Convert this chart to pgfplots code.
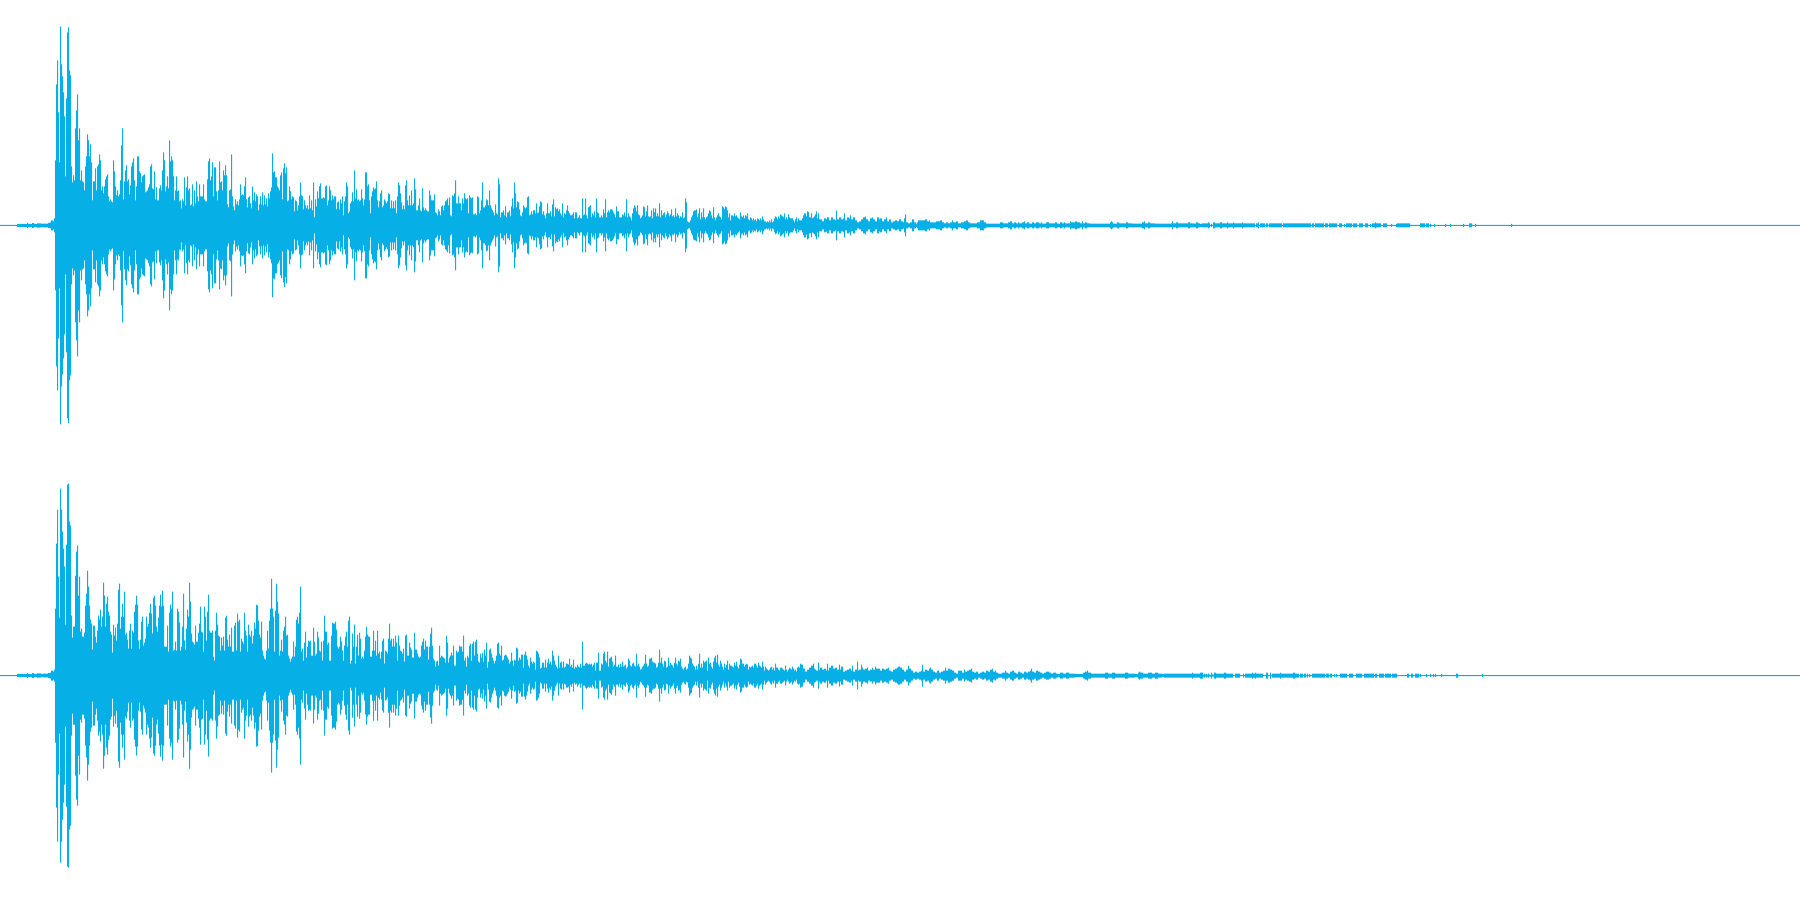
\documentclass[border=0pt]{standalone}
\usepackage{pgfplots}
\usepackage{pgfplotstable}
\pgfplotsset{compat=1.18}
\definecolor{wave}{RGB}{6,175,230}
\pgfplotstableread[row sep=\\]{x a\\
0 .5\\ 17 1.6\\ 27 2.4\\ 28 1.5\\ 32 2.4\\ 34 1.5\\ 37 2.2\\ 41 1.5\\ 42 1.8\\ 48 2.6\\ 50 3\\ 51 5\\ 53 4\\ 54 7\\
55 65\\ 56 141\\ 57 165\\ 58 113\\ 59 63\\ 60 199\\ 61 161\\ 62 149\\ 63 133\\ 64 109\\ 65 49\\ 66 127\\ 67 193\\ 68 198\\ 69 155\\ 70 150\\ 71 59\\ 72 43\\ 73 50\\ 74 45\\ 75 97\\ 76 115\\ 77 131\\ 78 85\\ 79 97\\ 80 45\\ 81 55\\ 82 44\\ 83 43\\ 84 35\\ 85 59\\ 86 69\\ 87 91\\ 88 85\\ 89 69\\ 90 81\\ 91 63\\ 92 25\\ 93 44\\ 94 44\\ 95 57\\ 96 35\\ 97 59\\ 98 61\\ 99 71\\ 100 65\\ 101 35\\ 102 39\\ 103 32\\ 104 39\\ 105 46\\ 106 49\\ 107 51\\ 108 29\\ 109 24\\ 110 26\\ 111 24\\ 112 23\\ 113 65\\ 114 54\\ 115 39\\ 116 30\\ 117 35\\ 118 29\\ 119 31\\ 120 45\\ 121 80\\ 122 97\\ 123 26\\ 124 44\\ 125 55\\ 126 60\\ 127 44\\ 128 46\\ 129 31\\ 130 40\\ 131 59\\ 132 63\\ 133 67\\ 134 45\\ 135 25\\ 136 39\\ 137 69\\ 138 69\\ 139 54\\ 140 52\\ 141 43\\ 142 49\\ 143 50\\ 144 51\\ 145 33\\ 146 34\\ 147 35\\ 148 38\\ 149 41\\ 150 59\\ 151 61\\ 152 37\\ 153 36\\ 154 54\\ 155 26\\ 156 38\\ 157 25\\ 158 25\\ 159 37\\ 160 40\\ 161 35\\ 162 55\\ 163 73\\ 164 65\\ 165 34\\ 166 39\\ 167 49\\ 168 37\\ 169 85\\ 170 64\\ 171 69\\ 172 65\\ 173 49\\ 174 25\\ 175 35\\ 176 49\\ 177 34\\ 178 35\\ 179 24\\ 180 25\\ 181 17\\ 182 26\\ 183 24\\ 184 48\\ 185 20\\ 186 38\\ 187 49\\ 188 35\\ 189 37\\ 190 20\\ 191 21\\ 192 41\\ 193 19\\ 194 35\\ 195 22\\ 196 44\\ 197 29\\ 198 24\\ 199 41\\ 200 29\\ 201 29\\ 202 29\\ 203 41\\ 204 26\\ 205 24\\ 206 24\\ 207 46\\ 208 64\\ 209 67\\ 210 45\\ 211 49\\ 212 63\\ 213 29\\ 214 58\\ 215 58\\ 216 34\\ 217 25\\ 218 35\\ 219 64\\ 220 43\\ 221 44\\ 222 35\\ 223 55\\ 224 50\\ 225 60\\ 226 50\\ 227 21\\ 228 18\\ 229 35\\ 230 36\\ 231 71\\ 232 29\\ 233 19\\ 234 15\\ 235 26\\ 236 21\\ 237 24\\ 238 20\\ 239 26\\ 240 41\\ 241 30\\ 242 31\\ 243 30\\ 244 39\\ 245 48\\ 246 26\\ 247 18\\ 248 28\\ 249 29\\ 250 22\\ 251 17\\ 252 39\\ 253 25\\ 254 33\\ 255 24\\ 256 31\\ 257 29\\ 258 15\\ 259 21\\ 260 29\\ 261 21\\ 262 33\\ 263 20\\ 264 30\\ 265 21\\ 266 27\\ 267 19\\ 268 32\\ 269 27\\ 270 34\\ 271 38\\ 272 72\\ 273 53\\ 274 54\\ 275 48\\ 276 48\\ 277 39\\ 278 37\\ 279 35\\ 280 50\\ 281 53\\ 282 26\\ 283 57\\ 284 62\\ 285 52\\ 286 58\\ 287 24\\ 288 25\\ 289 39\\ 290 34\\ 291 26\\ 292 29\\ 293 28\\ 294 14\\ 295 25\\ 296 24\\ 297 15\\ 298 20\\ 299 29\\ 300 43\\ 301 30\\ 302 29\\ 303 16\\ 304 25\\ 305 20\\ 306 17\\ 307 20\\ 308 16\\ 309 30\\ 310 17\\ 311 25\\ 312 15\\ 313 43\\ 314 8\\ 315 26\\ 316 19\\ 317 34\\ 318 27\\ 319 39\\ 320 42\\ 321 27\\ 322 27\\ 323 28\\ 324 27\\ 325 39\\ 326 40\\ 327 20\\ 328 25\\ 329 39\\ 330 35\\ 331 25\\ 332 30\\ 333 26\\ 334 29\\ 335 29\\ 336 16\\ 337 23\\ 338 24\\ 339 16\\ 340 26\\ 341 22\\ 342 29\\ 343 10\\ 344 24\\ 345 29\\ 346 43\\ 347 39\\ 348 12\\ 349 14\\ 350 22\\ 351 24\\ 352 33\\ 353 24\\ 354 55\\ 355 27\\ 356 36\\ 357 25\\ 358 26\\ 359 24\\ 360 25\\ 361 36\\ 362 27\\ 363 20\\ 364 26\\ 365 53\\ 366 53\\ 367 39\\ 368 41\\ 369 25\\ 370 12\\ 371 29\\ 372 34\\ 373 38\\ 374 36\\ 375 37\\ 376 44\\ 377 25\\ 378 18\\ 379 24\\ 380 32\\ 381 35\\ 382 18\\ 383 20\\ 384 26\\ 385 24\\ 386 22\\ 387 24\\ 388 32\\ 389 31\\ 390 17\\ 391 25\\ 392 17\\ 393 24\\ 394 17\\ 395 25\\ 396 12\\ 397 29\\ 398 43\\ 399 40\\
400 32\\ 401 23\\ 402 16\\ 403 20\\ 404 16\\ 405 40\\ 406 45\\ 407 25\\ 408 20\\ 409 30\\ 410 20\\ 411 35\\ 412 20\\ 413 22\\ 414 47\\ 415 36\\ 416 15\\ 417 15\\ 418 20\\ 419 27\\ 420 15\\ 421 14\\ 422 37\\ 423 18\\ 424 15\\ 425 17\\ 426 15\\ 427 14\\ 428 14\\ 429 35\\ 430 30\\ 431 25\\ 432 25\\ 433 25\\ 434 31\\ 435 13\\ 436 12\\ 437 10\\ 438 16\\ 439 14\\ 440 10\\ 441 19\\ 442 20\\ 443 15\\ 444 20\\ 445 24\\ 446 25\\ 447 27\\ 448 20\\ 449 28\\ 450 10\\ 451 9\\ 452 30\\ 453 29\\ 454 32\\ 455 45\\ 456 22\\ 457 22\\ 458 29\\ 459 22\\ 460 22\\ 461 15\\ 462 27\\ 463 22\\ 464 32\\ 465 27\\ 466 26\\ 467 27\\ 468 12\\ 469 30\\ 470 28\\ 471 27\\ 472 28\\ 473 11\\ 474 11\\ 475 12\\ 476 10\\ 477 29\\ 478 28\\ 479 12\\ 480 15\\ 481 25\\ 482 43\\ 483 18\\ 484 18\\ 485 20\\ 486 26\\ 487 25\\ 488 20\\ 489 35\\ 490 20\\ 491 17\\ 492 15\\ 493 13\\ 494 10\\ 495 21\\ 496 12\\ 497 11\\ 498 47\\ 499 41\\ 500 8\\ 501 13\\ 502 13\\ 503 15\\ 504 10\\ 505 19\\ 506 8\\ 507 13\\ 508 13\\ 509 15\\ 510 9\\ 511 19\\ 512 27\\ 513 17\\ 514 43\\ 515 32\\ 516 18\\ 517 24\\ 518 23\\ 519 16\\ 520 10\\ 521 9\\ 522 13\\ 523 20\\ 524 18\\ 525 17\\ 526 18\\ 527 28\\ 528 29\\ 529 10\\ 530 11\\ 531 14\\ 532 11\\ 533 15\\ 534 15\\ 535 12\\ 536 22\\ 537 12\\ 538 13\\ 539 19\\ 540 24\\ 541 23\\ 542 11\\ 543 14\\ 544 10\\ 545 7\\ 546 12\\ 547 22\\ 548 12\\ 549 12\\ 550 14\\ 551 9\\ 552 21\\ 553 26\\ 554 9\\ 555 18\\ 556 16\\ 557 17\\ 558 14\\ 559 16\\ 560 12\\ 561 10\\ 562 22\\ 563 8\\ 564 12\\ 565 11\\ 566 15\\ 567 20\\ 568 14\\ 569 12\\ 570 10\\ 571 10\\ 572 11\\ 573 13\\ 574 7\\ 575 13\\ 576 13\\ 577 7\\ 578 8\\ 579 10\\ 580 7\\ 581 7\\ 582 27\\ 583 10\\ 584 11\\ 585 27\\ 586 10\\ 587 7\\ 588 18\\ 589 19\\ 590 20\\ 591 8\\ 592 12\\ 593 10\\ 594 14\\ 595 8\\ 596 27\\ 597 13\\ 598 12\\ 599 8\\ 600 8\\ 601 10\\ 602 8\\ 603 16\\ 604 12\\ 605 26\\ 606 8\\ 607 13\\ 608 15\\ 609 13\\ 610 16\\ 611 16\\ 612 15\\ 613 13\\ 614 11\\ 615 8\\ 616 19\\ 617 14\\ 618 14\\ 619 8\\ 620 8\\ 621 8\\ 622 11\\ 623 10\\ 624 13\\ 625 9\\ 626 26\\ 627 8\\ 628 12\\ 629 9\\ 630 8\\ 631 5\\ 632 12\\ 633 17\\ 634 20\\ 635 18\\ 636 14\\ 637 20\\ 638 11\\ 639 10\\ 640 7\\ 641 8\\ 642 10\\ 643 19\\ 644 18\\ 645 9\\ 646 14\\ 647 20\\ 648 9\\ 649 8\\ 650 9\\ 651 15\\ 652 7\\ 653 17\\ 654 13\\ 655 17\\ 656 9\\ 657 12\\ 658 9\\ 659 22\\ 660 8\\ 661 15\\ 662 10\\ 663 12\\ 664 13\\ 665 8\\ 666 11\\ 667 14\\ 668 12\\ 669 9\\ 670 11\\ 671 16\\ 672 9\\ 673 10\\ 674 8\\ 675 17\\ 676 9\\ 677 12\\ 678 10\\ 679 7\\ 680 9\\ 681 8\\ 682 13\\ 683 7\\ 684 8\\ 685 27\\ 686 23\\ 687 4\\ 688 3\\ 689 3\\ 690 5\\ 691 8\\ 692 10\\ 693 14\\ 694 15\\ 695 15\\ 696 16\\ 697 8\\ 698 12\\ 699 17\\ 700 6\\ 701 13\\ 702 8\\ 703 17\\ 704 8\\ 705 6\\ 706 8\\ 707 9\\ 708 12\\ 709 15\\ 710 14\\ 711 10\\ 712 7\\ 713 18\\ 714 8\\ 715 5\\ 716 8\\ 717 10\\ 718 12\\ 719 9\\ 720 8\\ 721 6\\ 722 19\\ 723 18\\ 724 16\\ 725 19\\ 726 18\\ 727 15\\ 728 8\\ 729 12\\ 730 5\\ 731 10\\ 732 10\\ 733 9\\ 734 12\\ 735 9\\ 736 10\\ 737 8\\ 738 7\\ 739 6\\ 740 13\\ 741 9\\ 742 8\\ 743 10\\ 744 7\\ 745 10\\ 746 9\\ 747 12\\ 748 6\\ 749 5\\ 750 8\\ 751 7\\ 752 5\\ 753 7\\ 754 5\\ 755 6\\ 756 4\\ 757 7\\ 758 6\\ 759 5\\ 760 7\\ 761 5\\ 762 9\\ 763 6\\ 764 4\\ 765 4\\ 766 3\\ 767 4\\ 768 3\\ 769 5\\ 770 3\\ 771 6\\ 772 3\\ 773 4\\ 774 7\\ 775 9\\ 776 8\\ 777 6\\ 778 9\\ 779 7\\ 780 11\\ 781 10\\ 782 9\\ 783 8\\ 784 12\\ 785 6\\ 786 8\\ 787 6\\ 788 11\\ 789 8\\ 790 7\\ 791 7\\ 792 7\\ 793 5\\ 794 3\\ 795 6\\ 796 8\\ 797 4\\ 798 7\\ 799 5\\
800 5\\ 802 7\\ 803 10\\ 804 12\\ 806 9\\ 807 14\\ 808 13\\ 809 8\\ 811 12\\ 812 7\\ 813 8\\ 814 9\\ 815 11\\ 816 14\\ 817 7\\ 818 12\\ 819 6\\ 820 6\\ 822 4\\ 824 7\\ 826 6\\ 827 8\\ 829 5\\ 831 8\\ 833 6\\ 835 5\\ 836 15\\ 837 6\\ 839 8\\ 841 6\\ 843 7\\ 844 12\\ 845 5\\ 847 8\\ 849 7\\ 850 10\\ 851 6\\ 853 8\\ 855 5\\ 857 3\\ 859 4\\ 861 6\\ 863 8\\ 865 9\\ 866 6\\ 868 4\\ 870 7\\ 872 8\\ 873 6\\ 875 4\\ 877 8\\ 879 6\\ 880 7\\ 882 4\\ 884 6\\ 886 8\\ 887 4\\ 889 6\\ 891 3\\ 893 4\\ 895 5\\ 897 4\\ 899 6\\ 901 4\\ 903 3\\ 904 7\\ 905 11\\ 906 3\\ 908 2\\ 910 3\\ 912 6\\ 914 3\\ 916 1.5\\ 917 3\\ 918 5\\ 925 6\\ 927 4\\ 929 5\\ 930 3\\ 936 4\\ 940 5\\ 942 3\\ 944 2\\ 946 3\\ 948 2\\ 950 3\\ 952 5\\ 953 3\\ 956 4\\ 958 2\\ 961 3\\ 964 4\\ 966 5\\ 968 3\\ 970 2\\ 977 3\\ 980 5\\ 984 3\\ 986 1.8\\ 997 1.8\\ 1000 3\\ 1003 2\\ 1008 3\\ 1010 4\\ 1012 2\\ 1014 3\\ 1016 2\\ 1018 3\\ 1019 2\\ 1022 3\\ 1024 4\\ 1025 2\\ 1027 3\\ 1029 1.8\\ 1032 3\\ 1034 2\\ 1036 3\\ 1039 2\\ 1041 3\\ 1042 1.8\\ 1046 3\\ 1049 2\\ 1055 3\\ 1057 1.8\\ 1060 3\\ 1062 2\\ 1064 3\\ 1065 2\\ 1070 4\\ 1071 3\\ 1075 4\\ 1077 3\\ 1080 2\\ 1082 4\\ 1083 2\\ 1085 3\\ 1087 2\\ 1090 1.8\\ 1110 3\\ 1111 4\\ 1112 3\\ 1113 1.8\\ 1117 3\\ 1119 2\\ 1126 3\\ 1128 2\\ 1132 1.8\\ 1142 3\\ 1144 4\\ 1145 2\\ 1148 3\\ 1150 2\\ 1155 1.8\\ 1171 2\\ 1172 4\\ 1173 2\\ 1176 3\\ 1178 2\\ 1188 3\\ 1190 2\\ 1194 1.8\\ 1196 3\\ 1198 2\\
1200 1.5\\ 1202 2\\ 1208 3\\ 1209 2\\ 1210 .5\\ 1211 1.5\\ 1212 .5\\ 1213 3\\ 1215 2\\ 1220 3\\ 1222 2\\ 1227 3\\ 1228 2\\ 1233 3\\ 1234 2\\ 1242 3\\ 1243 2\\ 1255 .5\\ 1256 2\\ 1258 3\\ 1259 .5\\ 1260 2\\ 1265 .5\\ 1266 2\\ 1268 .5\\ 1269 2\\ 1282 .5\\ 1283 2\\ 1311 .5\\ 1312 2\\ 1314 .5\\ 1315 2\\ 1324 .5\\ 1325 2\\ 1328 .5\\ 1329 2\\ 1337 .5\\ 1339 2\\ 1342 .5\\ 1344 1.5\\ 1345 .5\\ 1346 2\\ 1352 .5\\ 1353 2\\ 1357 .5\\ 1359 2\\ 1363 .5\\ 1365 2\\ 1368 .5\\ 1370 1.5\\ 1371 .5\\ 1372 2\\ 1375 3\\ 1376 2\\ 1381 .5\\ 1383 2\\ 1387 .5\\ 1391 1.5\\ 1392 .5\\ 1396 1.5\\ 1397 2\\ 1410 .5\\ 1420 2\\ 1425 .5\\ 1426 2\\ 1429 .5\\ 1430 1.5\\ 1431 .5\\ 1434 1.5\\ 1435 .5\\ 1445 1.5\\ 1446 .5\\ 1450 1.5\\ 1451 .5\\ 1463 1.5\\ 1464 .5\\ 1469 2\\ 1472 .5\\ 1475 1.5\\ 1476 .5\\ 1511 1.5\\ 1512 .5\\ 1800 .5\\
}\chone
\pgfplotstableread[row sep=\\]{x a\\
0 .5\\ 17 1.6\\ 27 2.4\\ 28 1.5\\ 32 2.4\\ 34 1.5\\ 37 2.2\\ 41 1.5\\ 42 1.8\\ 48 2.6\\ 50 3\\ 51 5\\ 53 4\\ 54 6\\
55 67\\ 56 132\\ 57 166\\ 58 99\\ 59 58\\ 60 187\\ 61 166\\ 62 144\\ 63 127\\ 64 109\\ 65 51\\ 66 131\\ 67 191\\ 68 192\\ 69 154\\ 70 150\\ 71 60\\ 72 38\\ 73 49\\ 74 49\\ 75 100\\ 76 124\\ 77 130\\ 78 80\\ 79 99\\ 80 44\\ 81 47\\ 82 39\\ 83 39\\ 84 43\\ 85 70\\ 86 82\\ 87 105\\ 88 89\\ 89 70\\ 90 56\\ 91 52\\ 92 26\\ 93 50\\ 94 50\\ 95 39\\ 96 33\\ 97 45\\ 98 60\\ 99 56\\ 100 66\\ 101 49\\ 102 59\\ 103 93\\ 104 80\\ 105 49\\ 106 72\\ 107 79\\ 108 64\\ 109 60\\ 110 44\\ 111 41\\ 112 23\\ 113 51\\ 114 40\\ 115 48\\ 116 35\\ 117 52\\ 118 86\\ 119 92\\ 120 47\\ 121 59\\ 122 72\\ 123 59\\ 124 84\\ 125 41\\ 126 43\\ 127 36\\ 128 27\\ 129 45\\ 130 52\\ 131 27\\ 132 45\\ 133 43\\ 134 64\\ 135 71\\ 136 80\\ 137 71\\ 138 35\\ 139 27\\ 140 36\\ 141 54\\ 142 59\\ 143 30\\ 144 33\\ 145 37\\ 146 59\\ 147 49\\ 148 52\\ 149 63\\ 150 72\\ 151 62\\ 152 42\\ 153 78\\ 154 80\\ 155 70\\ 156 49\\ 157 44\\ 158 58\\ 159 70\\ 160 81\\ 161 69\\ 162 85\\ 163 70\\ 164 29\\ 165 29\\ 166 29\\ 167 50\\ 168 24\\ 169 63\\ 170 71\\ 171 67\\ 172 84\\ 173 25\\ 174 26\\ 175 34\\ 176 25\\ 177 67\\ 178 64\\ 179 53\\ 180 25\\ 181 29\\ 182 49\\ 183 82\\ 184 35\\ 185 26\\ 186 47\\ 187 66\\ 188 59\\ 189 93\\ 190 74\\ 191 42\\ 192 34\\ 193 33\\ 194 31\\ 195 50\\ 196 34\\ 197 34\\ 198 43\\ 199 52\\ 200 69\\ 201 44\\ 202 43\\ 203 24\\ 204 69\\ 205 59\\ 206 35\\ 207 64\\ 208 81\\ 209 45\\ 210 43\\ 211 43\\ 212 45\\ 213 19\\ 214 15\\ 215 45\\ 216 63\\ 217 51\\ 218 40\\ 219 39\\ 220 25\\ 221 38\\ 222 30\\ 223 39\\ 224 25\\ 225 58\\ 226 60\\ 227 36\\ 228 29\\ 229 41\\ 230 29\\ 231 48\\ 232 24\\ 233 24\\ 234 50\\ 235 53\\ 236 25\\ 237 62\\ 238 54\\ 239 56\\ 240 24\\ 241 37\\ 242 34\\ 243 32\\ 244 63\\ 245 45\\ 246 40\\ 247 24\\ 248 51\\ 249 41\\ 250 39\\ 251 45\\ 252 32\\ 253 40\\ 254 53\\ 255 47\\ 256 71\\ 257 70\\ 258 55\\ 259 41\\ 260 38\\ 261 54\\ 262 25\\ 263 20\\ 264 17\\ 265 16\\ 266 25\\ 267 45\\ 268 27\\ 269 55\\ 270 67\\ 271 97\\ 272 67\\ 273 59\\ 274 24\\ 275 65\\ 276 92\\ 277 74\\ 278 62\\ 279 20\\ 280 25\\ 281 36\\ 282 24\\ 283 45\\ 284 49\\ 285 59\\ 286 40\\ 287 41\\ 288 20\\ 289 17\\ 290 14\\ 291 17\\ 292 19\\ 293 34\\ 294 19\\ 295 29\\ 296 56\\ 297 59\\ 298 52\\ 299 63\\ 300 89\\ 301 24\\ 302 27\\ 303 15\\ 304 33\\ 305 44\\ 306 18\\ 307 29\\ 308 35\\ 309 34\\ 310 35\\ 311 20\\ 312 20\\ 313 48\\ 314 34\\ 315 20\\ 316 22\\ 317 44\\ 318 38\\ 319 25\\ 320 24\\ 321 34\\ 322 15\\ 323 35\\ 324 60\\ 325 44\\ 326 44\\ 327 31\\ 328 33\\ 329 15\\ 330 15\\ 331 40\\ 332 53\\ 333 52\\ 334 52\\ 335 54\\ 336 46\\ 337 29\\ 338 27\\ 339 29\\ 340 39\\ 341 34\\ 342 25\\ 343 15\\ 344 30\\ 345 39\\ 346 44\\ 347 29\\ 348 55\\ 349 59\\ 350 12\\ 351 15\\ 352 42\\ 353 29\\ 354 51\\ 355 12\\ 356 29\\ 357 41\\ 358 20\\ 359 43\\ 360 37\\ 361 17\\ 362 19\\ 363 17\\ 364 25\\ 365 39\\ 366 49\\ 367 41\\ 368 39\\ 369 39\\ 370 19\\ 371 19\\ 372 25\\ 373 45\\ 374 25\\ 375 35\\ 376 20\\ 377 45\\ 378 22\\ 379 24\\ 380 17\\ 381 24\\ 382 35\\ 383 37\\ 384 12\\ 385 25\\ 386 24\\ 387 22\\ 388 37\\ 389 52\\ 390 35\\ 391 37\\ 392 29\\ 393 37\\ 394 29\\ 395 40\\ 396 33\\ 397 15\\ 398 40\\ 399 30\\
400 25\\ 401 24\\ 402 22\\ 403 27\\ 404 14\\ 405 40\\ 406 41\\ 407 20\\ 408 20\\ 409 33\\ 410 28\\ 411 26\\ 412 18\\ 413 18\\ 414 43\\ 415 26\\ 416 26\\ 417 22\\ 418 19\\ 419 18\\ 420 19\\ 421 30\\ 422 34\\ 423 37\\ 424 26\\ 425 35\\ 426 29\\ 427 29\\ 428 16\\ 429 29\\ 430 42\\ 431 48\\ 432 30\\ 433 17\\ 434 15\\ 435 9\\ 436 14\\ 437 15\\ 438 10\\ 439 30\\ 440 18\\ 441 20\\ 442 19\\ 443 18\\ 444 17\\ 445 13\\ 446 40\\ 447 33\\ 448 13\\ 449 18\\ 450 20\\ 451 23\\ 452 20\\ 453 30\\ 454 10\\ 455 10\\ 456 25\\ 457 23\\ 458 24\\ 459 30\\ 460 29\\ 461 29\\ 462 24\\ 463 40\\ 464 15\\ 465 18\\ 466 9\\ 467 20\\ 468 18\\ 469 30\\ 470 32\\ 471 15\\ 472 32\\ 473 34\\ 474 20\\ 475 34\\ 476 36\\ 477 22\\ 478 14\\ 479 13\\ 480 22\\ 481 18\\ 482 23\\ 483 14\\ 484 26\\ 485 20\\ 486 33\\ 487 8\\ 488 14\\ 489 26\\ 490 27\\ 491 22\\ 492 18\\ 493 15\\ 494 12\\ 495 15\\ 496 20\\ 497 32\\ 498 33\\ 499 22\\ 500 20\\ 501 30\\ 502 15\\ 503 16\\ 504 20\\ 505 21\\ 506 20\\ 507 18\\ 508 16\\ 509 12\\ 510 14\\ 511 23\\ 512 15\\ 513 10\\ 514 16\\ 515 15\\ 516 28\\ 517 27\\ 518 15\\ 519 18\\ 520 16\\ 521 21\\ 522 21\\ 523 8\\ 524 21\\ 525 24\\ 526 20\\ 527 16\\ 528 10\\ 529 8\\ 530 18\\ 531 14\\ 532 12\\ 533 14\\ 534 13\\ 535 6\\ 536 25\\ 537 24\\ 538 22\\ 539 18\\ 540 7\\ 541 8\\ 542 13\\ 543 13\\ 544 8\\ 545 16\\ 546 8\\ 547 13\\ 548 17\\ 549 12\\ 550 14\\ 551 11\\ 552 25\\ 553 20\\ 554 15\\ 555 11\\ 556 9\\ 557 7\\ 558 20\\ 559 8\\ 560 13\\ 561 14\\ 562 8\\ 563 14\\ 564 8\\ 565 9\\ 566 12\\ 567 12\\ 568 11\\ 569 17\\ 570 9\\ 571 11\\ 572 8\\ 573 16\\ 574 7\\ 575 9\\ 576 8\\ 577 11\\ 578 9\\ 579 8\\ 580 12\\ 581 8\\ 582 34\\ 583 10\\ 584 10\\ 585 12\\ 586 13\\ 587 12\\ 588 11\\ 589 12\\ 590 11\\ 591 12\\ 592 9\\ 593 11\\ 594 13\\ 595 5\\ 596 13\\ 597 13\\ 598 23\\ 599 5\\ 600 5\\ 601 12\\ 602 11\\ 603 22\\ 604 24\\ 605 15\\ 606 13\\ 607 24\\ 608 9\\ 609 17\\ 610 18\\ 611 19\\ 612 14\\ 613 9\\ 614 11\\ 615 20\\ 616 9\\ 617 9\\ 618 11\\ 619 8\\ 620 12\\ 621 9\\ 622 14\\ 623 9\\ 624 10\\ 625 11\\ 626 7\\ 627 9\\ 628 17\\ 629 15\\ 630 10\\ 631 9\\ 632 12\\ 633 13\\ 634 10\\ 635 9\\ 636 22\\ 637 10\\ 638 12\\ 639 9\\ 640 6\\ 641 7\\ 642 9\\ 643 10\\ 644 12\\ 645 21\\ 646 12\\ 647 9\\ 648 10\\ 649 17\\ 650 17\\ 651 18\\ 652 14\\ 653 13\\ 654 13\\ 655 12\\ 656 8\\ 657 9\\ 658 13\\ 659 26\\ 660 13\\ 661 18\\ 662 12\\ 663 9\\ 664 15\\ 665 14\\ 666 8\\ 667 9\\ 668 18\\ 669 10\\ 670 13\\ 671 11\\ 672 10\\ 673 8\\ 674 13\\ 675 18\\ 676 12\\ 677 10\\ 678 15\\ 679 14\\ 680 17\\ 681 9\\ 682 7\\ 683 6\\ 684 8\\ 685 9\\ 686 6\\ 687 7\\ 688 12\\ 689 20\\ 690 18\\ 691 17\\ 692 12\\ 693 10\\ 694 9\\ 695 6\\ 696 10\\ 697 6\\ 698 12\\ 699 22\\ 700 8\\ 701 12\\ 702 8\\ 703 15\\ 704 13\\ 705 14\\ 706 15\\ 707 5\\ 708 18\\ 709 12\\ 710 13\\ 711 9\\ 712 7\\ 713 14\\ 714 18\\ 715 20\\ 716 13\\ 717 21\\ 718 11\\ 719 9\\ 720 15\\ 721 12\\ 722 9\\ 723 6\\ 724 12\\ 725 8\\ 726 11\\ 727 15\\ 728 6\\ 729 12\\ 730 10\\ 731 10\\ 732 9\\ 733 8\\ 734 13\\ 735 10\\ 736 14\\ 737 9\\ 738 7\\ 739 11\\ 740 17\\ 741 16\\ 742 12\\ 743 12\\ 744 9\\ 745 11\\ 746 12\\ 747 11\\ 748 6\\ 749 9\\ 750 8\\ 751 9\\ 752 10\\ 753 8\\ 754 12\\ 755 12\\ 756 10\\ 757 8\\ 758 13\\ 759 10\\ 760 9\\ 761 8\\ 762 14\\ 763 9\\ 764 5\\ 765 9\\ 766 7\\ 767 6\\ 768 5\\ 769 6\\ 770 8\\ 771 9\\ 772 6\\ 773 8\\ 774 5\\ 775 12\\ 776 8\\ 777 8\\ 778 6\\ 779 5\\ 780 8\\ 781 8\\ 782 7\\ 783 6\\ 784 5\\ 785 10\\ 786 6\\ 787 4\\ 788 6\\ 789 8\\ 790 7\\ 791 6\\ 792 9\\ 793 7\\ 794 5\\ 795 6\\ 796 4\\ 797 8\\ 798 9\\ 799 8\\
800 12\\ 801 11\\ 803 7\\ 805 4\\ 807 6\\ 809 8\\ 811 10\\ 813 12\\ 814 7\\ 815 6\\ 816 5\\ 818 13\\ 819 6\\ 820 8\\ 822 6\\ 824 7\\ 826 5\\ 827 12\\ 828 5\\ 829 8\\ 831 10\\ 833 7\\ 835 8\\ 837 6\\ 839 11\\ 840 6\\ 841 9\\ 843 4\\ 845 5\\ 847 6\\ 849 7\\ 851 5\\ 852 10\\ 853 4\\ 855 6\\ 856 6\\ 857 14\\ 858 5\\ 859 6\\ 861 11\\ 862 8\\ 863 6\\ 865 7\\ 867 8\\ 868 5\\ 870 6\\ 872 8\\ 873 6\\ 875 9\\ 876 7\\ 878 7\\ 880 5\\ 882 7\\ 884 6\\ 886 7\\ 888 8\\ 889 5\\ 891 4\\ 893 6\\ 895 7\\ 897 8\\ 898 9\\ 900 8\\ 902 6\\ 904 4\\ 906 6\\ 908 10\\ 909 7\\ 911 5\\ 913 3\\ 915 4\\ 917 3\\ 919 4\\ 921 5\\ 922 11\\ 923 4\\ 925 6\\ 927 5\\ 929 7\\ 930 8\\ 931 6\\ 933 4\\ 935 3\\ 937 5\\ 939 3\\ 941 4\\ 943 5\\ 945 8\\ 946 5\\ 948 7\\ 950 6\\ 952 5\\ 954 3\\ 956 2\\ 958 5\\ 960 5\\ 962 3\\ 964 6\\ 965 4\\ 967 5\\ 969 6\\ 971 7\\ 972 4\\ 974 3\\ 976 4\\ 978 2\\ 980 3\\ 982 4\\ 984 3\\ 986 5\\ 988 4\\ 990 6\\ 992 7\\ 993 4\\ 995 5\\ 996 3\\ 998 2\\ 1000 2\\ 1002 3\\ 1005 5\\ 1006 3\\ 1008 2\\ 1010 4\\ 1012 5\\ 1014 3\\ 1016 2\\ 1018 4\\ 1020 3\\ 1022 2\\ 1024 4\\ 1026 3\\ 1028 4\\ 1030 5\\ 1031 7\\ 1032 4\\ 1034 3\\ 1036 5\\ 1038 4\\ 1040 3\\ 1042 2\\ 1044 3\\ 1046 4\\ 1049 3\\ 1051 2\\ 1053 3\\ 1056 2\\ 1058 1.5\\ 1060 3\\ 1063 2\\ 1066 3\\ 1069 2\\ 1075 1.5\\ 1083 3\\ 1085 4\\ 1087 5\\ 1088 3\\ 1091 2\\ 1105 3\\ 1108 2\\ 1112 3\\ 1115 2\\ 1125 3\\ 1128 2\\ 1135 1.5\\ 1138 3\\ 1139 4\\ 1140 3\\ 1143 2\\ 1148 3\\ 1152 2\\ 1155 3\\ 1158 2\\ 1162 1.5\\ 1164 2\\ 1170 2\\ 1192 3\\ 1193 2\\
1200 3\\ 1203 1\\ 1204 2\\ 1205 1\\ 1206 2\\ 1207 1\\ 1208 2\\ 1209 1\\ 1211 3\\ 1212 1\\ 1214 3\\ 1216 2\\ 1224 3\\ 1226 2\\ 1233 .5\\ 1235 2\\ 1240 .5\\ 1243 2\\ 1244 .5\\ 1245 2\\ 1252 3\\ 1253 2\\ 1255 3\\ 1256 2\\ 1263 .5\\ 1266 3\\ 1268 .5\\ 1270 3\\ 1271 .5\\ 1272 2\\ 1280 3\\ 1281 2\\ 1293 3\\ 1295 2\\ 1299 .5\\ 1300 2\\ 1303 .5\\ 1304 2\\ 1306 .5\\ 1307 2\\ 1308 .5\\ 1309 1.5\\ 1310 .5\\ 1312 2\\ 1325 .5\\ 1326 2\\ 1329 .5\\ 1330 2\\ 1332 .5\\ 1334 1.5\\ 1335 .5\\ 1336 1.5\\ 1337 .5\\ 1340 2\\ 1347 .5\\ 1349 2\\ 1353 .5\\ 1356 2\\ 1362 .5\\ 1364 2\\ 1374 .5\\ 1375 2\\ 1377 .5\\ 1379 2\\ 1384 .5\\ 1385 2\\ 1391 .5\\ 1392 2\\ 1397 .5\\ 1407 2\\ 1409 .5\\ 1411 2\\ 1413 .5\\ 1415 2\\ 1419 .5\\ 1420 1.5\\ 1421 .5\\ 1426 1.5\\ 1427 .5\\ 1430 1.5\\ 1431 .5\\ 1433 1.5\\ 1434 .5\\ 1435 1.5\\ 1436 .5\\ 1441 1.5\\ 1442 .5\\ 1456 2\\ 1458 .5\\ 1482 1.5\\ 1483 .5\\ 1800 .5\\
}\chtwo
\pgfplotsset{wavebox/.style={
  scale only axis, width=900pt, height=225pt,
  xmin=0, xmax=1800, ymin=-224.5, ymax=225.5,
  hide axis, anchor=south west}}
\begin{document}
\begin{tikzpicture}
\useasboundingbox (0pt,-225pt) rectangle (900pt,225pt);
\begin{axis}[wavebox, at={(0pt,0pt)}]
\addplot[const plot, fill=wave, draw=none] table[x=x, y=a] {\chone} \closedcycle;
\addplot[const plot, fill=wave, draw=none] table[x=x, y expr=-\thisrow{a}] {\chone} \closedcycle;
\addplot[wave, line width=0.5pt] coordinates {(0,0) (1800,0)};
\end{axis}
\begin{axis}[wavebox, at={(0pt,-225pt)}]
\addplot[const plot, fill=wave, draw=none] table[x=x, y=a] {\chtwo} \closedcycle;
\addplot[const plot, fill=wave, draw=none] table[x=x, y expr=-\thisrow{a}] {\chtwo} \closedcycle;
\addplot[wave, line width=0.5pt] coordinates {(0,0) (1800,0)};
\end{axis}
\end{tikzpicture}
\end{document}
